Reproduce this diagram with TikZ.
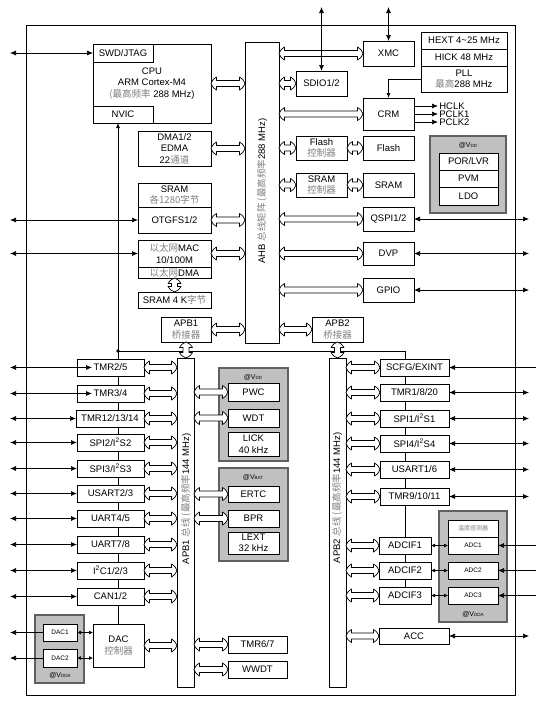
\documentclass[tikz,border=0pt]{standalone}
\usepackage{fontspec}
\setmainfont{Liberation Sans}
\newfontfamily\cjk{Noto Sans CJK SC}
\usetikzlibrary{arrows.meta,calc}
\definecolor{zhc}{HTML}{808080}
\definecolor{gfill}{HTML}{C0C0C0}
\definecolor{gedge}{HTML}{606060}
\newcommand\zh[1]{{\cjk\color{zhc}#1}}
\newcommand\bx[7][]{\node[box,#1,minimum width={(#5-#3)*1pt},minimum height={(#6-#4)*1pt}] (#2) at ({(#3+#5)/2},{(#4+#6)/2}) {#7};}
\newcommand\vsub[1]{@V{\fontsize{4.5}{5}\selectfont #1}}
% hollow double arrow, horizontal: from point #1 (left) to point #2 (right)
\newcommand\harr[2]{\draw[holpoly] let \p1=(#1), \p2=(#2) in
  (\x1,\y1) .. controls (\x1+2pt,\y1+4pt) .. (\x1+5.5pt,\y1+6.5pt) -- (\x1+5.5pt,\y1+3pt) -- (\x2-5.5pt,\y1+3pt) -- (\x2-5.5pt,\y1+6.5pt)
  .. controls (\x2-2pt,\y1+4pt) .. (\x2,\y1) .. controls (\x2-2pt,\y1-4pt) .. (\x2-5.5pt,\y1-6.5pt) -- (\x2-5.5pt,\y1-3pt) -- (\x1+5.5pt,\y1-3pt) -- (\x1+5.5pt,\y1-6.5pt)
  .. controls (\x1+2pt,\y1-4pt) .. cycle;}
% vertical: from point #1 (top) to point #2 (bottom)
\newcommand\varr[2]{\draw[holpoly] let \p1=(#1), \p2=(#2) in
  (\x1,\y1) .. controls (\x1+4pt,\y1-2pt) .. (\x1+6.5pt,\y1-5.5pt) -- (\x1+3pt,\y1-5.5pt) -- (\x1+3pt,\y2+5.5pt) -- (\x1+6.5pt,\y2+5.5pt)
  .. controls (\x1+4pt,\y2+2pt) .. (\x1,\y2) .. controls (\x1-4pt,\y2+2pt) .. (\x1-6.5pt,\y2+5.5pt) -- (\x1-3pt,\y2+5.5pt) -- (\x1-3pt,\y1-5.5pt) -- (\x1-6.5pt,\y1-5.5pt)
  .. controls (\x1-4pt,\y1-2pt) .. cycle;}
\begin{document}
\begin{tikzpicture}[x=1pt,y=-1pt,
  box/.style={draw, fill=white, line width=0.8pt, inner sep=0pt, outer sep=0pt, align=center, font=\fontsize{9.5}{11.5}\selectfont},
  gbox/.style={draw=gedge, fill=gfill, line width=1.3pt},
  small/.style={font=\fontsize{6.5}{8}\selectfont},
  holpoly/.style={draw, fill=white, line width=0.7pt, line join=round},
  io/.style={line width=0.7pt, {Latex[length=6pt,width=5pt]}-{Latex[length=6pt,width=5pt]}},
  ioin/.style={line width=0.7pt, -{Latex[length=6pt,width=5pt]}},
  sio/.style={line width=0.7pt, {Latex[length=4pt,width=4pt]}-{Latex[length=4pt,width=4pt]}},
  lab/.style={font=\fontsize{9.5}{11}\selectfont},
  vlab/.style={font=\fontsize{7}{8}\selectfont}]
\useasboundingbox (0,0) rectangle (540,705);
% frame
\draw[line width=0.8pt] (26,25) rectangle (515,695);
\coordinate (lft) at (10,0);
\coordinate (rgt) at (529,0);
\coordinate (rin) at (536,0);
\coordinate (tp) at (0,7);
\coordinate (nv) at (118,0);
\coordinate (jn) at (118,351);
\coordinate (xl) at (405,0);

% ---------- boxes (AHB part)
\bx{cpu}{93}{44}{211}{123}{CPU\\ARM Cortex-M4\\\zh{(最高频率} 288 MHz)}
\bx{swd}{93}{44}{153}{62}{SWD/JTAG}
\bx{nvic}{93}{106}{153}{123}{NVIC}
\bx{dma}{138}{131}{211}{166}{DMA1/2\\EDMA\\22\zh{通道}}
\bx{sram1}{138}{183}{211}{207}{SRAM\\\zh{各1280字节}}
\bx{otg}{138}{207}{211}{233}{OTGFS1/2}
\bx{eth}{138}{240}{211}{267}{\zh{以太网}MAC\\10/100M}
\bx{ethdma}{138}{267}{211}{278}{\zh{以太网}DMA}
\bx{sram4}{138}{292}{211}{308}{SRAM 4 K\zh{字节}}
\bx{apb1br}{161}{317}{211}{342}{APB1\\\zh{桥接器}}
\bx{apb2br}{312}{317}{363}{342}{APB2\\\zh{桥接器}}
\bx{ahb}{245}{42}{279}{343}{}
\node[lab,rotate=90] at (262,191) {AHB \zh{总线矩阵 (最高频率}288 MHz)};
\bx{xmc}{363}{41}{414}{66}{XMC}
\bx{sdio}{296}{71}{347}{96}{SDIO1/2}
\bx{hext}{421}{32}{507}{49}{HEXT 4\textasciitilde25 MHz}
\bx{hick}{421}{49}{507}{66}{HICK 48 MHz}
\bx{pll}{421}{66}{507}{92}{PLL\\\zh{最高}288 MHz}
\bx{crm}{363}{98}{414}{130}{CRM}
\bx{flashc}{296}{136}{347}{160}{Flash\\\zh{控制器}}
\bx{flash}{363}{136}{414}{160}{Flash}
\bx{sramc}{296}{173}{347}{197}{SRAM\\\zh{控制器}}
\bx{sram}{363}{173}{414}{197}{SRAM}
\bx[gbox]{vddg}{430}{136}{506}{213}{}
\node[vlab] at (468,145) {\vsub{DD}};
\bx{por}{439}{153}{498}{170}{POR/LVR}
\bx{pvm}{439}{170}{498}{187}{PVM}
\bx{ldo}{439}{187}{498}{205}{LDO}
\bx{qspi}{363}{207}{414}{231}{QSPI1/2}
\bx{dvp}{363}{242}{414}{265}{DVP}
\bx{gpio}{363}{278}{414}{302}{GPIO}

% ---------- interrupt lines (behind boxes)
\draw[line width=0.7pt,-{Latex[length=5pt,width=4pt]}] (nv |- 0,624) -- (nv |- nvic.south);
\draw[line width=0.7pt] (jn) -| (xl |- 0,587);
\fill (jn) circle (1.8pt);

% ---------- APB buses
\bx{apb1bus}{177}{358}{194}{687}{}
\node[lab,rotate=90] at (186,499) {APB1 \zh{总线 (最高频率}144 MHz)};
\bx{apb2bus}{329}{358}{346}{687}{}
\node[lab,rotate=90] at (337,498) {APB2 \zh{总线 (最高频率}144 MHz)};

% left APB1 peripherals
\bx{tmr25}{77}{359}{144}{376}{TMR2/5}
\bx{tmr34}{77}{385}{144}{402}{TMR3/4}
\bx{tmr12}{76}{410}{144}{427}{TMR12/13/14}
\bx{spi2}{77}{434}{144}{451}{SPI2/I\textsuperscript{2}S2}
\bx{spi3}{77}{460}{144}{477}{SPI3/I\textsuperscript{2}S3}
\bx{usart23}{77}{485}{144}{502}{USART2/3}
\bx{uart45}{77}{510}{144}{527}{UART4/5}
\bx{uart78}{77}{536}{144}{553}{UART7/8}
\bx{i2c}{77}{562}{144}{579}{I\textsuperscript{2}C1/2/3}
\bx{can}{77}{588}{144}{605}{CAN1/2}
\bx{dacc}{93}{624}{144}{667}{DAC\\\zh{控制器}}
\bx[gbox]{dacg}{35}{615}{84}{683}{}
\bx[small]{dac1}{43}{624}{77}{641}{DAC1}
\bx[small]{dac2}{43}{649}{77}{667}{DAC2}
\node[vlab] at (60,675) {\vsub{DDA}};

% right of APB1
\bx[gbox]{vdd1}{219}{368}{288}{461}{}
\node[vlab] at (253,377) {\vsub{DD}};
\bx{pwc}{228}{383}{279}{401}{PWC}
\bx{wdt}{228}{409}{279}{427}{WDT}
\bx{lick}{228}{432}{279}{456}{LICK\\40 kHz}
\bx[gbox]{vbat}{219}{468}{288}{561}{}
\node[vlab] at (253,477) {\vsub{BAT}};
\bx{ertc}{228}{486}{279}{502}{ERTC}
\bx{bpr}{228}{510}{279}{527}{BPR}
\bx{lext}{228}{532}{279}{554}{LEXT\\32 kHz}
\bx{tmr67}{228}{636}{287}{653}{TMR6/7}
\bx{wwdt}{228}{661}{287}{678}{WWDT}

% APB2 peripherals
\bx{scfg}{380}{359}{449}{376}{SCFG/EXINT}
\bx{tmr1}{380}{384}{449}{401}{TMR1/8/20}
\bx{spi1}{380}{410}{449}{427}{SPI1/I\textsuperscript{2}S1}
\bx{spi4}{380}{435}{449}{452}{SPI4/I\textsuperscript{2}S4}
\bx{usart16}{380}{461}{449}{478}{USART1/6}
\bx{tmr9}{380}{488}{449}{505}{TMR9/10/11}
\bx{adcif1}{379}{537}{431}{554}{ADCIF1}
\bx{adcif2}{379}{562}{431}{579}{ADCIF2}
\bx{adcif3}{379}{587}{431}{604}{ADCIF3}
\bx{acc}{379}{628}{449}{644}{ACC}
\bx[gbox]{adcg}{439}{511}{507}{622}{}
\bx[font=\fontsize{6}{7}\selectfont]{temp}{448}{520}{498}{537}{\zh{温度感测器}}
\bx[small]{adc1}{448}{537}{498}{554}{ADC1}
\bx[small]{adc2}{448}{562}{498}{579}{ADC2}
\bx[small]{adc3}{448}{587}{498}{604}{ADC3}
\node[vlab] at (473,614) {\vsub{DDA}};

% ---------- hollow bus arrows
\harr{cpu.east}{cpu.east -| ahb.west}
\harr{dma.east}{dma.east -| ahb.west}
\harr{otg.east}{otg.east -| ahb.west}
\harr{eth.east}{eth.east -| ahb.west}
\harr{apb1br.east}{apb1br.east -| ahb.west}
\varr{ethdma.south}{ethdma.south |- sram4.north}
\harr{ahb.east |- xmc.west}{xmc.west}
\harr{ahb.east |- sdio.west}{sdio.west}
\harr{ahb.east |- crm.west}{crm.west}
\harr{ahb.east |- flashc.west}{flashc.west}
\harr{flashc.east}{flash.west}
\harr{ahb.east |- sramc.west}{sramc.west}
\harr{sramc.east}{sram.west}
\harr{ahb.east |- qspi.west}{qspi.west}
\harr{ahb.east |- dvp.west}{dvp.west}
\harr{ahb.east |- gpio.west}{gpio.west}
\harr{ahb.east |- apb2br.west}{apb2br.west}
\varr{apb1br.south}{apb1br.south |- apb1bus.north}
\varr{apb2br.south}{apb2br.south |- apb2bus.north}
\foreach \q in {tmr25,tmr34,tmr12,spi2,spi3,usart23,uart45,uart78,i2c,can,dacc}
  {\harr{\q.east}{\q.east -| apb1bus.west}}
\foreach \q in {pwc,wdt,ertc,bpr,tmr67,wwdt}
  {\harr{\q.west -| apb1bus.east}{\q.west}}
\foreach \q in {scfg,tmr1,spi1,spi4,usart16,tmr9,adcif1,adcif2,adcif3,acc}
  {\harr{\q.west -| apb2bus.east}{\q.west}}

% ---------- I/O arrows
\draw[io] (swd.west -| lft) -- (swd.west);
\draw[io] (otg.west -| lft) -- (otg.west);
\draw[io] (eth.west -| lft) -- (eth.west);
\draw[io] (tmr25.west -| lft) -- ([xshift=15pt]tmr25.west);
\draw[io] (tmr34.west -| lft) -- ([xshift=15pt]tmr34.west);
\foreach \q in {tmr12,spi2,spi3,usart23,uart45,uart78,i2c,can}
  \draw[io] (\q.west -| lft) -- (\q.west);
\draw[ioin] (dac1.west) -- (dac1.west -| lft);
\draw[ioin] (dac2.west) -- (dac2.west -| lft);
\draw[sio] (dac1.east) -- (dac1.east -| dacc.west);
\draw[sio] (dac2.east) -- (dac2.east -| dacc.west);
\draw[io] (xmc.north) -- (xmc.north |- tp);
\draw[io] (sdio.north) -- (sdio.north |- tp);
\foreach \q in {qspi,dvp,gpio,tmr1,spi1,spi4,usart16,tmr9,acc}
  \draw[io] (\q.east) -- (\q.east -| rgt);
\draw[ioin] (scfg.east -| rin) -- (scfg.east);
\foreach \q in {adc1,adc2,adc3}
  \draw[ioin] (\q.east -| rin) -- (\q.east);
\draw[sio] (adcif1.east) -- (adc1.west);
\draw[sio] (adcif2.east) -- (adc2.west);
\draw[sio] (adcif3.east) -- (adc3.west);

% clocks
\draw[line width=0.7pt,-{Latex[length=5pt,width=4pt]}] (pll.west) -| (crm.north);
\draw[ioin] ([yshift=8pt]crm.east) -- ++(24,0) node[lab,anchor=west,inner sep=1pt] (hclk) {HCLK};
\draw[ioin] (crm.east) -- ++(24,0) node[lab,anchor=west,inner sep=1pt] (pclk1) {PCLK1};
\draw[ioin] ([yshift=-8pt]crm.east) -- ++(24,0) node[lab,anchor=west,inner sep=1pt] (pclk2) {PCLK2};
\end{tikzpicture}
\end{document}
